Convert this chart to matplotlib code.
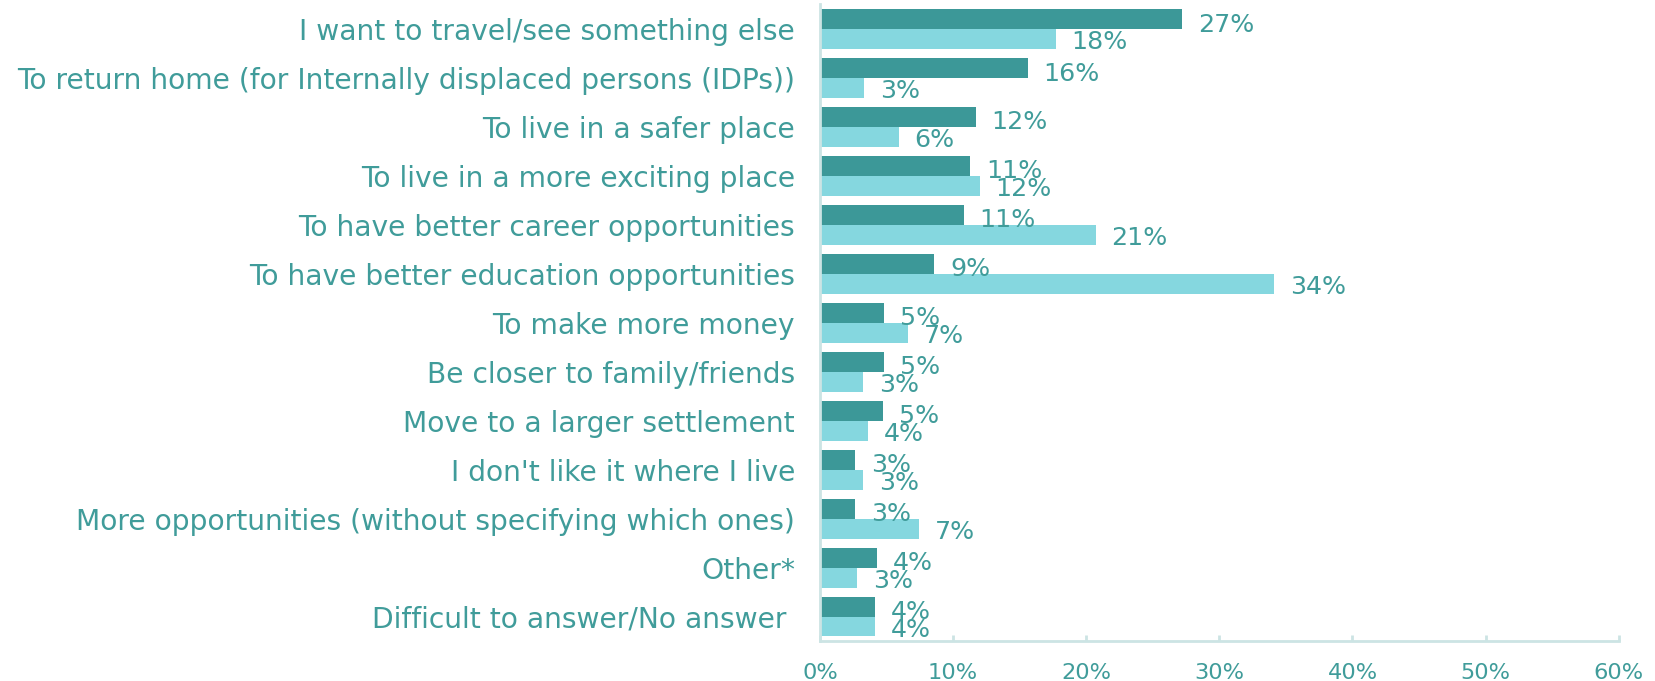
import matplotlib
matplotlib.use("Agg")
import matplotlib.pyplot as plt
from matplotlib.font_manager import FontProperties
from matplotlib.textpath import TextPath

categories = [
    "I want to travel/see something else",
    "To return home (for Internally displaced persons (IDPs))",
    "To live in a safer place",
    "To live in a more exciting place",
    "To have better career opportunities",
    "To have better education opportunities",
    "To make more money",
    "Be closer to family/friends",
    "Move to a larger settlement",
    "I don't like it where I live",
    "More opportunities (without specifying which ones)",
    "Other*",
    "Difficult to answer/No answer ",
]
series_dark = [27.2, 15.6, 11.7, 11.3, 10.8, 8.6, 4.8, 4.8, 4.7, 2.6, 2.6, 4.3, 4.1]
series_light = [17.7, 3.3, 5.9, 12.0, 20.7, 34.1, 6.6, 3.2, 3.6, 3.2, 7.4, 2.8, 4.1]
xticks = [0, 10, 20, 30, 40, 50, 60]
xtick_labels = ["0%", "10%", "20%", "30%", "40%", "50%", "60%"]

DARK = "#3C9898"
LIGHT = "#85D7DF"
TEXT = "#409C9A"
AXIS = "#CCE4E4"
FONT = "DejaVu Sans"

W, H, DPI = 1655, 681, 100
fig = plt.figure(figsize=(W / DPI, H / DPI), dpi=DPI)
ax = fig.add_axes([820 / W, 1 - 641 / H, (1618.7 - 820) / W, (641 - 4.5) / H])

n = len(categories)
ypos = list(range(n))
bh = 0.408
ax.barh([y - bh / 2 for y in ypos], series_dark, height=bh, color=DARK, zorder=2)
ax.barh([y + bh / 2 for y in ypos], series_light, height=bh, color=LIGHT, zorder=2)

ax.set_xlim(0, 60)
ax.set_ylim(n - 0.5, -0.5)

# calibrate category font size to match reference width of longest label
target_px = 776
fp = FontProperties(family=FONT)
tp = TextPath((0, 0), categories[1], size=100, prop=fp)
wid = tp.get_extents().width
cat_pt = 100 * target_px / wid * 72 / DPI

ax.set_yticks(ypos)
ax.set_yticklabels(categories, fontsize=cat_pt, color=TEXT, family=FONT)
ax.tick_params(axis="y", length=0, pad=18)

ax.set_xticks(xticks)
ax.set_xticklabels(xtick_labels, fontsize=cat_pt * 0.8, color=TEXT, family=FONT)
ax.tick_params(axis="x", direction="in", length=4, width=2, color=AXIS, pad=16)

for s in ["top", "right"]:
    ax.spines[s].set_visible(False)
for s in ["left", "bottom"]:
    ax.spines[s].set_color(AXIS)
    ax.spines[s].set_linewidth(2)

val_pt = cat_pt * 0.9
for y, v in zip(ypos, series_dark):
    ax.annotate(f"{round(v + 1e-9):.0f}%", xy=(v, y - bh / 2), xytext=(11.5, -4),
                textcoords="offset points", va="center", ha="left",
                fontsize=val_pt, color=TEXT, family=FONT)
for y, v in zip(ypos, series_light):
    ax.annotate(f"{round(v + 1e-9):.0f}%", xy=(v, y + bh / 2), xytext=(11.5, -2.5),
                textcoords="offset points", va="center", ha="left",
                fontsize=val_pt, color=TEXT, family=FONT)

fig.savefig("out.png", dpi=DPI)
